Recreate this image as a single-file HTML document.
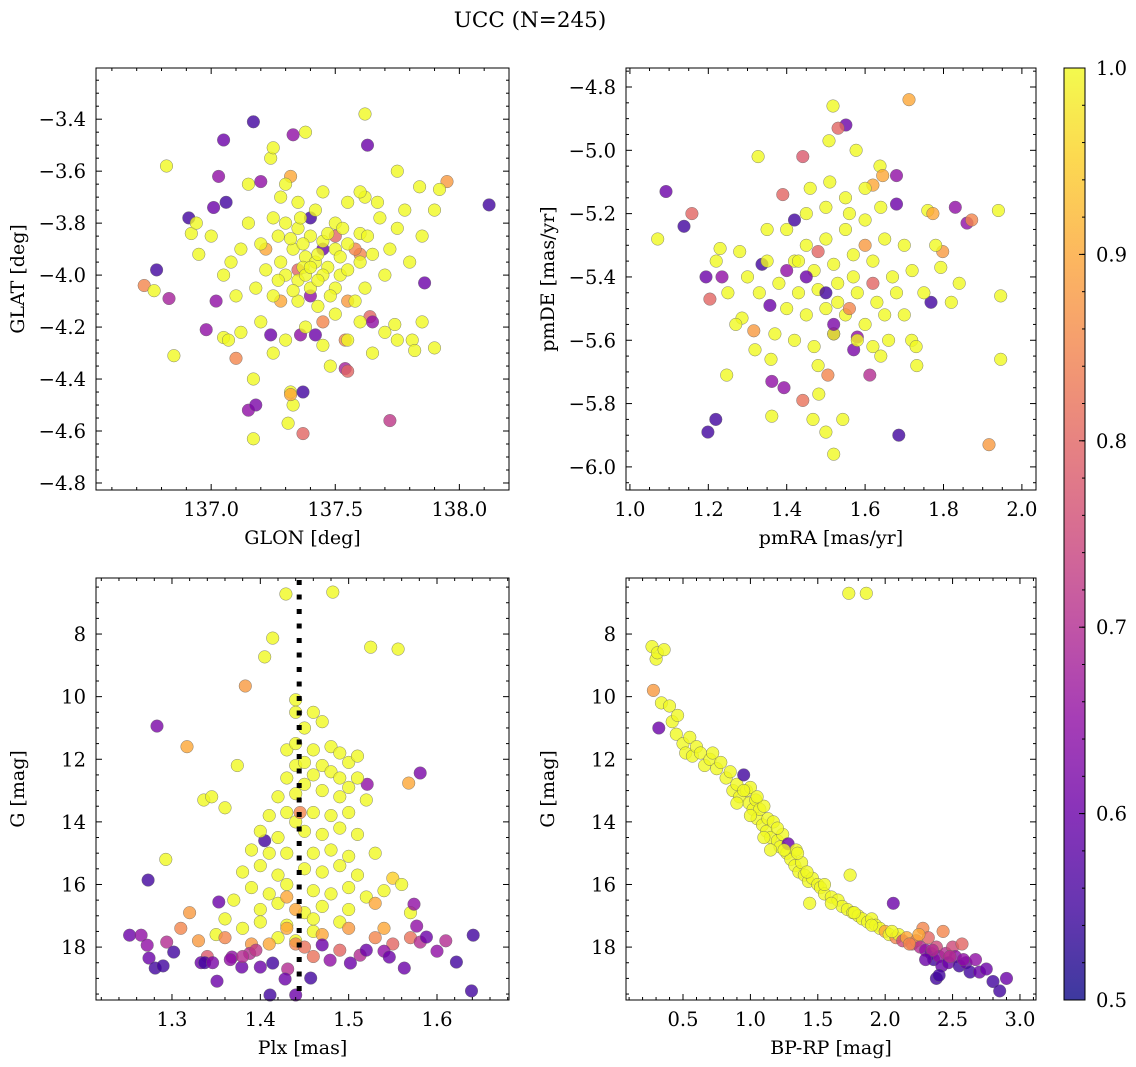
<!DOCTYPE html>
<html><head><meta charset="utf-8"><style>
body{margin:0;background:#fff}
svg{display:block;font-family:"DejaVu Serif","Liberation Serif",serif}
</style></head><body>
<svg id="fig" width="1136" height="1067" viewBox="0 0 1136 1067" xmlns="http://www.w3.org/2000/svg">
<rect width="1136" height="1067" fill="#fff"/>
<text x="530" y="27" font-size="21.5" text-anchor="middle">UCC (N=245)</text>
</svg>
<script>
// ---- data ----
const skyPoints = [[137.17,-3.41,.55],[137.05,-3.48,.6],[137.33,-3.46,.65],[137.38,-3.45,1],[137.62,-3.38,1],[137.63,-3.5,.6],[136.82,-3.58,1],[137.03,-3.62,.65],[137.24,-3.55,1],[137.25,-3.51,1],[137.32,-3.62,.9],[137.75,-3.6,1],[137.95,-3.64,.88],[137.84,-3.66,1],[138.12,-3.73,.55],[137.15,-3.65,1],[137.2,-3.64,.65],[137.06,-3.72,.55],[136.91,-3.78,.55],[136.92,-3.84,1],[136.94,-3.8,1],[137.01,-3.74,.6],[137.67,-3.72,1],[137.62,-3.7,1],[137.78,-3.75,1],[136.78,-3.98,.55],[136.73,-4.04,.85],[136.77,-4.06,1],[136.83,-4.09,.68],[136.85,-4.31,1],[136.98,-4.21,.65],[137.02,-4.1,.65],[137.05,-4.24,1],[137.1,-4.32,.85],[137.15,-4.52,.65],[137.18,-4.5,.62],[137.17,-4.63,1],[137.17,-4.4,1],[137.31,-4.57,1],[137.32,-4.45,1],[137.33,-4.5,1],[137.32,-4.46,.9],[137.37,-4.45,.55],[137.37,-4.61,.8],[137.72,-4.56,.72],[137.54,-4.36,.68],[137.55,-4.37,.8],[137.54,-4.25,.85],[137.24,-4.23,.6],[137.36,-4.23,.65],[137.42,-4.23,.6],[137.64,-4.16,.8],[137.65,-4.18,.65],[137.81,-4.25,1],[137.82,-4.29,1],[137.86,-4.03,.6],[137.74,-4.19,1],[137.6,-3.92,.85],[137.4,-3.78,.55],[137.45,-3.9,.6],[137.4,-4.08,.65],[137.5,-3.85,.8],[137.35,-3.98,.8],[137.58,-3.9,.85],[137.28,-4.1,.9],[137.45,-4.18,.85],[137.22,-3.9,.9],[137.55,-4.1,.88],
[137.25,-3.78,1],[137.3,-3.8,1],[137.35,-3.82,1],[137.4,-3.85,1],[137.45,-3.87,1],[137.5,-3.9,1],[137.55,-3.88,1],[137.6,-3.84,1],[137.33,-3.9,1],[137.38,-3.93,1],[137.42,-3.95,1],[137.47,-3.97,1],[137.52,-4.0,1],[137.28,-3.95,1],[137.3,-4.0,1],[137.35,-4.02,1],[137.4,-4.05,1],[137.45,-4.0,1],[137.5,-4.05,1],[137.55,-3.98,1],[137.6,-3.95,1],[137.65,-3.92,1],[137.2,-3.88,1],[137.22,-3.98,1],[137.18,-4.05,1],[137.25,-4.08,1],[137.35,-4.1,1],[137.43,-4.12,1],[137.5,-4.15,1],[137.58,-4.1,1],[137.62,-4.05,1],[137.7,-4.0,1],[137.72,-3.9,1],[137.75,-3.82,1],[137.68,-3.78,1],[137.5,-3.8,1],[137.42,-3.75,1],[137.35,-3.72,1],[137.28,-3.7,1],[137.15,-3.8,1],[137.12,-3.9,1],[137.08,-3.95,1],[137.05,-4.0,1],[137.1,-4.08,1],[137.0,-3.85,1],[136.95,-3.92,1],[137.3,-3.65,1],[137.45,-3.68,1],[137.55,-3.72,1],[137.6,-3.68,1],[137.8,-3.95,1],[137.85,-3.85,1],[137.9,-3.75,1],[137.92,-3.67,1],[137.85,-4.18,1],[137.9,-4.28,1],[137.7,-4.22,1],[137.65,-4.3,1],[137.75,-4.25,1],[137.38,-4.2,1],[137.3,-4.25,1],[137.25,-4.3,1],[137.2,-4.18,1],[137.12,-4.22,1],[137.07,-4.25,1],[137.45,-4.27,1],[137.55,-4.25,1],[137.6,-4.18,1],[137.48,-4.35,1],[137.52,-3.93,1],[137.37,-3.97,1],[137.27,-3.85,1],[137.63,-3.85,1],
[137.32,-3.86,1],[137.37,-3.88,1],[137.43,-3.92,1],[137.47,-3.84,1],[137.33,-4.06,1],[137.38,-4.0,1],[137.43,-4.02,1],[137.48,-4.08,1],[137.27,-4.02,1],[137.53,-3.82,1],[137.4,-3.97,1],[137.36,-3.78,1]];

const pmPoints = [[1.518,-4.86,1],[1.712,-4.84,.9],[1.551,-4.92,.6],[1.531,-4.93,.8],[1.508,-4.97,1],[1.577,-5.0,1],[1.327,-5.02,1],[1.441,-5.02,.78],[1.092,-5.13,.6],[1.638,-5.05,1],[1.645,-5.08,.9],[1.62,-5.11,.9],[1.68,-5.08,.65],[1.39,-5.14,.8],[1.158,-5.2,.8],[1.138,-5.24,.55],[1.83,-5.18,.65],[1.86,-5.23,.65],[1.872,-5.22,.85],[1.94,-5.19,1],[1.76,-5.19,1],[1.773,-5.2,.9],[1.68,-5.17,.6],[1.071,-5.28,1],[1.23,-5.31,1],[1.194,-5.4,.6],[1.235,-5.4,.65],[1.204,-5.47,.8],[1.337,-5.36,.55],[1.286,-5.53,1],[1.357,-5.49,.6],[1.798,-5.32,.88],[1.793,-5.37,1],[1.84,-5.42,1],[1.768,-5.48,.55],[1.946,-5.46,1],[1.946,-5.66,1],[1.247,-5.71,1],[1.316,-5.57,.88],[1.319,-5.63,1],[1.362,-5.73,.65],[1.362,-5.84,1],[1.393,-5.75,.65],[1.441,-5.79,.82],[1.482,-5.77,1],[1.467,-5.85,1],[1.505,-5.71,.85],[1.543,-5.85,1],[1.52,-5.96,1],[1.5,-5.89,1],[1.612,-5.71,.7],[1.571,-5.63,.62],[1.219,-5.85,.55],[1.199,-5.89,.55],[1.686,-5.9,.55],[1.916,-5.93,.88],[1.732,-5.68,1],[1.719,-5.6,1],[1.52,-5.58,.6],[1.58,-5.59,.65],[1.64,-5.65,1],
[1.40,-5.25,1],[1.45,-5.3,1],[1.5,-5.28,1],[1.55,-5.25,1],[1.6,-5.22,1],[1.65,-5.28,1],[1.42,-5.35,1],[1.47,-5.38,1],[1.52,-5.36,1],[1.57,-5.33,1],[1.62,-5.35,1],[1.67,-5.4,1],[1.38,-5.42,1],[1.43,-5.45,1],[1.48,-5.44,1],[1.53,-5.42,1],[1.58,-5.45,1],[1.63,-5.48,1],[1.68,-5.45,1],[1.4,-5.5,1],[1.45,-5.52,1],[1.5,-5.5,1],[1.55,-5.52,1],[1.6,-5.55,1],[1.65,-5.52,1],[1.35,-5.35,1],[1.33,-5.45,1],[1.3,-5.4,1],[1.28,-5.32,1],[1.37,-5.58,1],[1.42,-5.6,1],[1.47,-5.62,1],[1.52,-5.58,1],[1.58,-5.6,1],[1.5,-5.18,1],[1.55,-5.15,1],[1.6,-5.12,1],[1.45,-5.2,1],[1.7,-5.3,1],[1.72,-5.38,1],[1.75,-5.45,1],[1.7,-5.52,1],[1.62,-5.62,1],[1.48,-5.68,1],[1.43,-5.35,1],[1.53,-5.48,1],[1.57,-5.4,1],[1.25,-5.45,1],[1.22,-5.35,1],[1.35,-5.25,1],[1.56,-5.2,1],[1.64,-5.18,1],[1.46,-5.12,1],[1.51,-5.1,1],[1.66,-5.6,1],[1.36,-5.66,1],[1.27,-5.55,1],[1.78,-5.3,1],[1.82,-5.48,1],[1.73,-5.62,1],
[1.45,-5.4,.6],[1.5,-5.45,.55],[1.4,-5.38,.65],[1.56,-5.5,.85],[1.6,-5.3,.88],[1.48,-5.32,.8],[1.52,-5.55,.62],[1.42,-5.22,.55],[1.62,-5.42,.8]];

const plxPoints = [[1.429,6.72,1],[1.482,6.66,1],[1.405,8.73,1],[1.414,8.13,1],[1.525,8.42,1],[1.556,8.48,1],[1.383,9.66,.88],[1.283,10.94,.62],[1.317,11.6,.9],[1.374,12.2,1],[1.581,12.44,.62],[1.568,12.76,.9],[1.336,13.3,1],[1.345,13.2,1],[1.36,13.55,1],[1.293,15.2,1],[1.273,15.86,.55],[1.521,12.8,.65],[1.405,14.6,.55],
[1.44,10.1,1],[1.44,10.5,1],[1.45,11,1],[1.46,10.5,1],[1.47,10.8,1],[1.43,11.7,1],[1.44,11.5,1],[1.46,11.7,1],[1.48,11.6,1],[1.49,11.8,1],[1.44,12.2,1],[1.45,12.1,1],[1.47,12.2,1],[1.5,12.1,1],[1.51,11.9,1],[1.48,12.4,1],[1.43,12.6,1],[1.45,12.8,1],[1.46,12.5,1],[1.49,12.6,1],[1.5,12.9,1],[1.51,12.6,1],[1.42,13.2,1],[1.44,13.1,1],[1.47,13.0,1],[1.49,13.2,1],[1.52,13.3,1],[1.41,13.8,1],[1.43,13.7,1],[1.44,14,1],[1.46,13.7,1],[1.48,13.8,1],[1.5,13.7,1],[1.4,14.3,1],[1.42,14.5,1],[1.45,14.3,1],[1.47,14.4,1],[1.49,14.2,1],[1.51,14.4,1],[1.39,14.9,1],[1.41,15,1],[1.43,15,1],[1.46,15,1],[1.48,14.9,1],[1.5,15.1,1],[1.53,15,1],[1.38,15.6,1],[1.4,15.4,1],[1.42,15.7,1],[1.45,15.5,1],[1.47,15.6,1],[1.49,15.4,1],[1.51,15.7,1],[1.55,15.8,.95],[1.39,16.1,1],[1.41,16.3,1],[1.43,16.0,1],[1.46,16.2,1],[1.48,16.3,1],[1.5,16.1,1],[1.52,16.4,1],[1.54,16.2,1],[1.56,16.0,1],[1.37,16.5,1],[1.4,16.8,1],[1.42,16.6,1],[1.45,16.9,1],[1.47,16.7,1],[1.5,16.8,1],[1.53,16.6,.9],[1.36,17.1,1],[1.4,17.2,1],[1.43,17.3,1],[1.46,17.1,1],[1.49,17.2,1],[1.35,17.6,1],[1.38,17.4,1],[1.42,17.7,1],[1.44,17.8,1],[1.46,17.5,1],[1.57,16.9,1],[1.54,17.4,.9],
[1.33,17.8,.88],[1.36,17.7,.85],[1.39,17.9,.88],[1.43,17.4,.9],[1.44,17.9,.85],[1.45,18.0,.82],[1.47,17.6,.9],[1.49,18.1,.8],[1.53,17.7,.85],[1.34,18.3,.78],[1.44,16.8,.9],[1.43,16.4,.9],[1.445,13.7,.85],[1.31,17.4,.85],[1.32,16.9,.88],[1.41,17.9,.9],[1.46,18.3,.82],[1.55,17.9,.8],[1.57,17.7,.82],[1.5,17.4,.88],
[1.252,17.62,.6],[1.265,17.62,.65],[1.272,17.94,.65],[1.274,18.35,.6],[1.281,18.67,.55],[1.294,17.84,.7],[1.302,18.16,.55],[1.353,16.56,.6],[1.333,18.5,.6],[1.337,18.5,.55],[1.346,18.5,.62],[1.351,19.09,.6],[1.379,18.64,.6],[1.368,18.32,.65],[1.4,18.64,.6],[1.414,18.51,.55],[1.431,18.7,.7],[1.428,19.02,.6],[1.457,18.99,.55],[1.479,18.42,.65],[1.502,18.51,.6],[1.574,16.63,.65],[1.577,17.33,.65],[1.581,17.84,.7],[1.588,17.68,.6],[1.6,18.13,.65],[1.563,18.67,.6],[1.54,18.13,.65],[1.546,18.32,.6],[1.622,18.48,.55],[1.641,17.62,.55],[1.639,19.4,.55],[1.411,19.53,.55],[1.44,19.53,.6],[1.366,18.4,.65],[1.388,18.2,.7],[1.47,17.93,.6],[1.513,18.26,.7],[1.61,17.8,.7],[1.29,18.6,.55],[1.38,18.3,.7],[1.395,18.1,.72],[1.52,18.1,.6]];

const cmdPoints = [[0.27,8.4,1],[0.3,8.8,1],[0.31,8.6,1],[0.36,8.5,1],[0.28,9.8,.88],[0.34,10.2,1],[0.4,10.3,1],[0.32,11.0,.6],[0.42,10.8,1],[0.46,10.6,1],[0.45,11.2,1],[0.5,11.5,1],[0.52,11.8,1],[0.55,11.3,1],[0.57,11.9,1],[0.6,11.6,1],[0.63,11.8,1],[0.66,12.2,1],[0.7,12.0,1],[0.72,11.8,1],[0.75,12.3,1],[0.78,12.1,1],[0.82,12.6,1],[0.85,12.4,1],[0.87,13.0,1],[0.9,12.8,1],[0.92,13.2,1],[0.95,12.5,.55],[0.97,13.0,1],[0.99,13.4,1],[1.0,12.9,1],[1.02,13.6,1],[1.04,13.3,1],[1.05,13.9,1],[1.07,13.6,1],[1.09,14.1,1],[1.1,13.5,1],[1.12,14.3,1],[1.13,13.9,1],[1.15,14.5,1],[1.17,14.0,1],[1.2,14.6,1],[1.22,14.8,1],[1.24,14.4,1],[1.27,15.0,1],[1.28,14.7,.6],[1.3,15.2,1],[1.33,15.4,1],[1.34,14.9,1],[1.36,15.6,1],[1.38,15.3,1],[1.4,15.7,1],[1.43,15.9,1],[1.44,16.6,1],[1.46,15.8,1],[1.5,16.0,1],[1.52,16.1,1],[1.55,16.3,1],[1.6,16.4,1],[1.65,16.5,1],[1.68,16.7,1],[1.72,16.8,1],[1.74,15.7,1],[1.76,16.9,1],[1.8,17.0,1],[1.83,17.1,1],[1.87,17.2,1],[1.9,17.1,1],[1.93,17.3,1],[1.96,17.4,1],[2.0,17.5,.9],[2.03,17.6,1],[2.06,16.6,.6],[2.08,17.7,.85],[2.1,17.6,1],[2.13,17.8,.75],[2.16,17.7,.9],[2.2,17.9,.8],[2.23,17.8,.85],[2.26,18.0,.7],[2.28,17.4,.85],[2.3,18.1,.65],[2.32,17.7,.8],[2.34,18.2,.6],[2.36,18.4,.55],[2.38,18.0,.75],[2.4,18.3,.65],[2.42,18.6,.6],[2.43,17.5,.85],[2.45,18.2,.7],[2.47,18.5,.6],[2.5,18.0,.75],[2.52,18.3,.65],[2.55,18.6,.55],[2.57,17.9,.8],[2.6,18.5,.6],[2.63,18.8,.55],[2.67,18.4,.65],[2.7,18.8,.6],[2.75,18.7,.6],[2.8,19.1,.55],[2.85,19.4,.55],[2.9,19.0,.6],[2.38,19.0,.55],[2.25,17.6,.9],[1.73,6.7,1],[1.86,6.7,1],[1.77,16.9,1],[1.1,14.5,1],[0.9,13.4,1],[1.2,14.2,1],[1.35,15.0,1],[1.55,16.0,1],[1.0,13.8,1],[1.15,14.9,1],[0.95,13.0,1],[1.05,13.2,1],[1.25,14.9,1],[1.42,15.6,1],[1.6,16.6,1],[1.9,17.3,1],[2.05,17.5,1],[2.18,17.9,.85],[2.35,18.1,.7],[2.48,18.3,.7],[2.58,18.4,.65],[2.3,18.4,.6],[2.4,18.9,.55]];

const plxRef = [1.444];
const cbTicks = [0.5,0.6,0.7,0.8,0.9,1.0];

// ---- helpers ----
const NS='http://www.w3.org/2000/svg';
const svg=document.getElementById('fig');
function mk(tag,attrs,parent){const e=document.createElementNS(NS,tag);for(const k in attrs)e.setAttribute(k,attrs[k]);(parent||svg).appendChild(e);return e;}
const stops=[[0,[13,8,135]],[.1,[65,4,157]],[.2,[106,0,168]],[.3,[143,13,164]],[.4,[177,42,144]],[.5,[204,71,120]],[.6,[225,100,98]],[.7,[242,132,75]],[.8,[252,166,54]],[.9,[252,206,37]],[1,[240,249,33]]];
function plasma(t){t=Math.max(0,Math.min(1,t));for(let i=1;i<stops.length;i++){if(t<=stops[i][0]){const a=stops[i-1],b=stops[i];const f=(t-a[0])/(b[0]-a[0]);return 'rgb('+a[1].map((v,j)=>Math.round(v+(b[1][j]-v)*f)).join(',')+')';}}return 'rgb(240,249,33)';}
function fmt(v,d){const s=Math.abs(v).toFixed(d);return (v<-1e-9?'\u2212':'')+s;}
const TF=19.5, LF=19;

function panel(o){
  const g=mk('g',{});
  
  
  const X=v=>o.L+(v-o.x0)/(o.x1-o.x0)*(o.R-o.L);
  const Y=v=>o.T+(v-o.y0)/(o.y1-o.y0)*(o.B-o.T);
  const pg=mk('g',{},g);
  
  
  o.pts.forEach(p=>{
    const c=mk('circle',{cx:X(p[0]).toFixed(1),cy:Y(p[1]).toFixed(1),r:6.3,fill:plasma((p[2]-0.5)/0.5),'fill-opacity':0.8,stroke:'#666','stroke-width':0.5,'stroke-opacity':0.8},pg);
    
    
  });
  if(o.vline){o.vline.forEach(v=>{const l=mk('line',{x1:X(v),x2:X(v),y1:o.T+2,y2:o.B,stroke:'#000','stroke-width':5,'stroke-dasharray':'5,9.5'},g);
    
    });}
  const fr=mk('rect',{x:o.L,y:o.T,width:o.R-o.L,height:o.B-o.T,fill:'none',stroke:'#000','stroke-width':1},g);
  
  
  const tk={stroke:'#000','stroke-width':1};
  const lo=Math.min(o.x0,o.x1),hi=Math.max(o.x0,o.x1);
  for(let k=Math.ceil(lo/o.xm-1e-6);k*o.xm<=hi+1e-9;k++){const v=k*o.xm,x=X(v);const maj=Math.abs(v/o.xM-Math.round(v/o.xM))<1e-6;const len=maj?6:3;
    mk('line',Object.assign({x1:x,x2:x,y1:o.B,y2:o.B-len},tk),g);mk('line',Object.assign({x1:x,x2:x,y1:o.T,y2:o.T+len},tk),g);
    if(maj){const t=mk('text',{x:x,y:o.B+26,'font-size':TF,'text-anchor':'middle'},g);t.textContent=fmt(v,o.xd);}}
  const ylo=Math.min(o.y0,o.y1),yhi=Math.max(o.y0,o.y1);
  for(let k=Math.ceil(ylo/o.ym-1e-6);k*o.ym<=yhi+1e-9;k++){const v=k*o.ym,y=Y(v);const maj=Math.abs(v/o.yM-Math.round(v/o.yM))<1e-6;const len=maj?6:3;
    mk('line',Object.assign({x1:o.L,x2:o.L+len,y1:y,y2:y},tk),g);mk('line',Object.assign({x1:o.R,x2:o.R-len,y1:y,y2:y},tk),g);
    if(maj){const t=mk('text',{x:o.L-10,y:y+7,'font-size':TF,'text-anchor':'end'},g);t.textContent=fmt(v,o.yd);}}
  const xl=mk('text',{x:(o.L+o.R)/2,y:o.B+54,'font-size':LF,'text-anchor':'middle'},g);xl.textContent=o.xlab;
  
  const yx=o.L-72,yc=(o.T+o.B)/2;
  const yl=mk('text',{x:yx,y:yc,'font-size':LF,'text-anchor':'middle',transform:'rotate(-90 '+yx+' '+yc+')'},g);yl.textContent=o.ylab;
  
}

panel({name:'sky-position-panel',L:96,R:509,T:68,B:490,x0:136.536,x1:138.2,y0:-3.203,y1:-4.827,xM:0.5,xm:0.1,yM:0.2,ym:0.05,xd:1,yd:1,pts:skyPoints,xlab:'GLON [deg]',ylab:'GLAT [deg]'});
panel({name:'proper-motion-panel',L:626,R:1036,T:68,B:490,x0:0.99,x1:2.036,y0:-4.74,y1:-6.073,xM:0.2,xm:0.05,yM:0.2,ym:0.05,xd:1,yd:1,pts:pmPoints,xlab:'pmRA [mas/yr]',ylab:'pmDE [mas/yr]'});
panel({name:'parallax-panel',L:96,R:509,T:578,B:1000,x0:1.214,x1:1.6815,y0:6.21,y1:19.69,xM:0.1,xm:0.02,yM:2,ym:0.5,xd:1,yd:0,pts:plxPoints,vline:plxRef,xlab:'Plx [mas]',ylab:'G [mag]'});
panel({name:'cmd-panel',L:626,R:1036,T:578,B:1000,x0:0.077,x1:3.119,y0:6.21,y1:19.69,xM:0.5,xm:0.1,yM:2,ym:0.5,xd:1,yd:0,pts:cmdPoints,xlab:'BP-RP [mag]',ylab:'G [mag]'});

// colorbar
(function(){
  const L=1064,R=1085,T=68,B=1000;
  const g=mk('g',{});
  
  
  const defs=mk('defs',{},g);const lg=mk('linearGradient',{id:'cbg',x1:0,y1:1,x2:0,y2:0},defs);
  for(let i=0;i<=20;i++){mk('stop',{offset:i/20,'stop-color':plasma(i/20)},lg);}
  mk('rect',{x:L,y:T,width:R-L,height:B-T,fill:'url(#cbg)','fill-opacity':0.8},g);
  mk('rect',{x:L,y:T,width:R-L,height:B-T,fill:'none',stroke:'#000','stroke-width':1},g);
  const Y=v=>B-(v-0.5)/0.5*(B-T);
  for(let k=25;k<=50;k++){const v=k*0.02,y=Y(v);mk('line',{x1:R,x2:R-3,y1:y,y2:y,stroke:'#000'},g);}
  cbTicks.forEach(v=>{const y=Y(v);mk('line',{x1:R,x2:R-6,y1:y,y2:y,stroke:'#000'},g);
    const t=mk('text',{x:R+11,y:y+7,'font-size':TF},g);t.textContent=v.toFixed(1);
    });
})();
</script>
</body></html>
